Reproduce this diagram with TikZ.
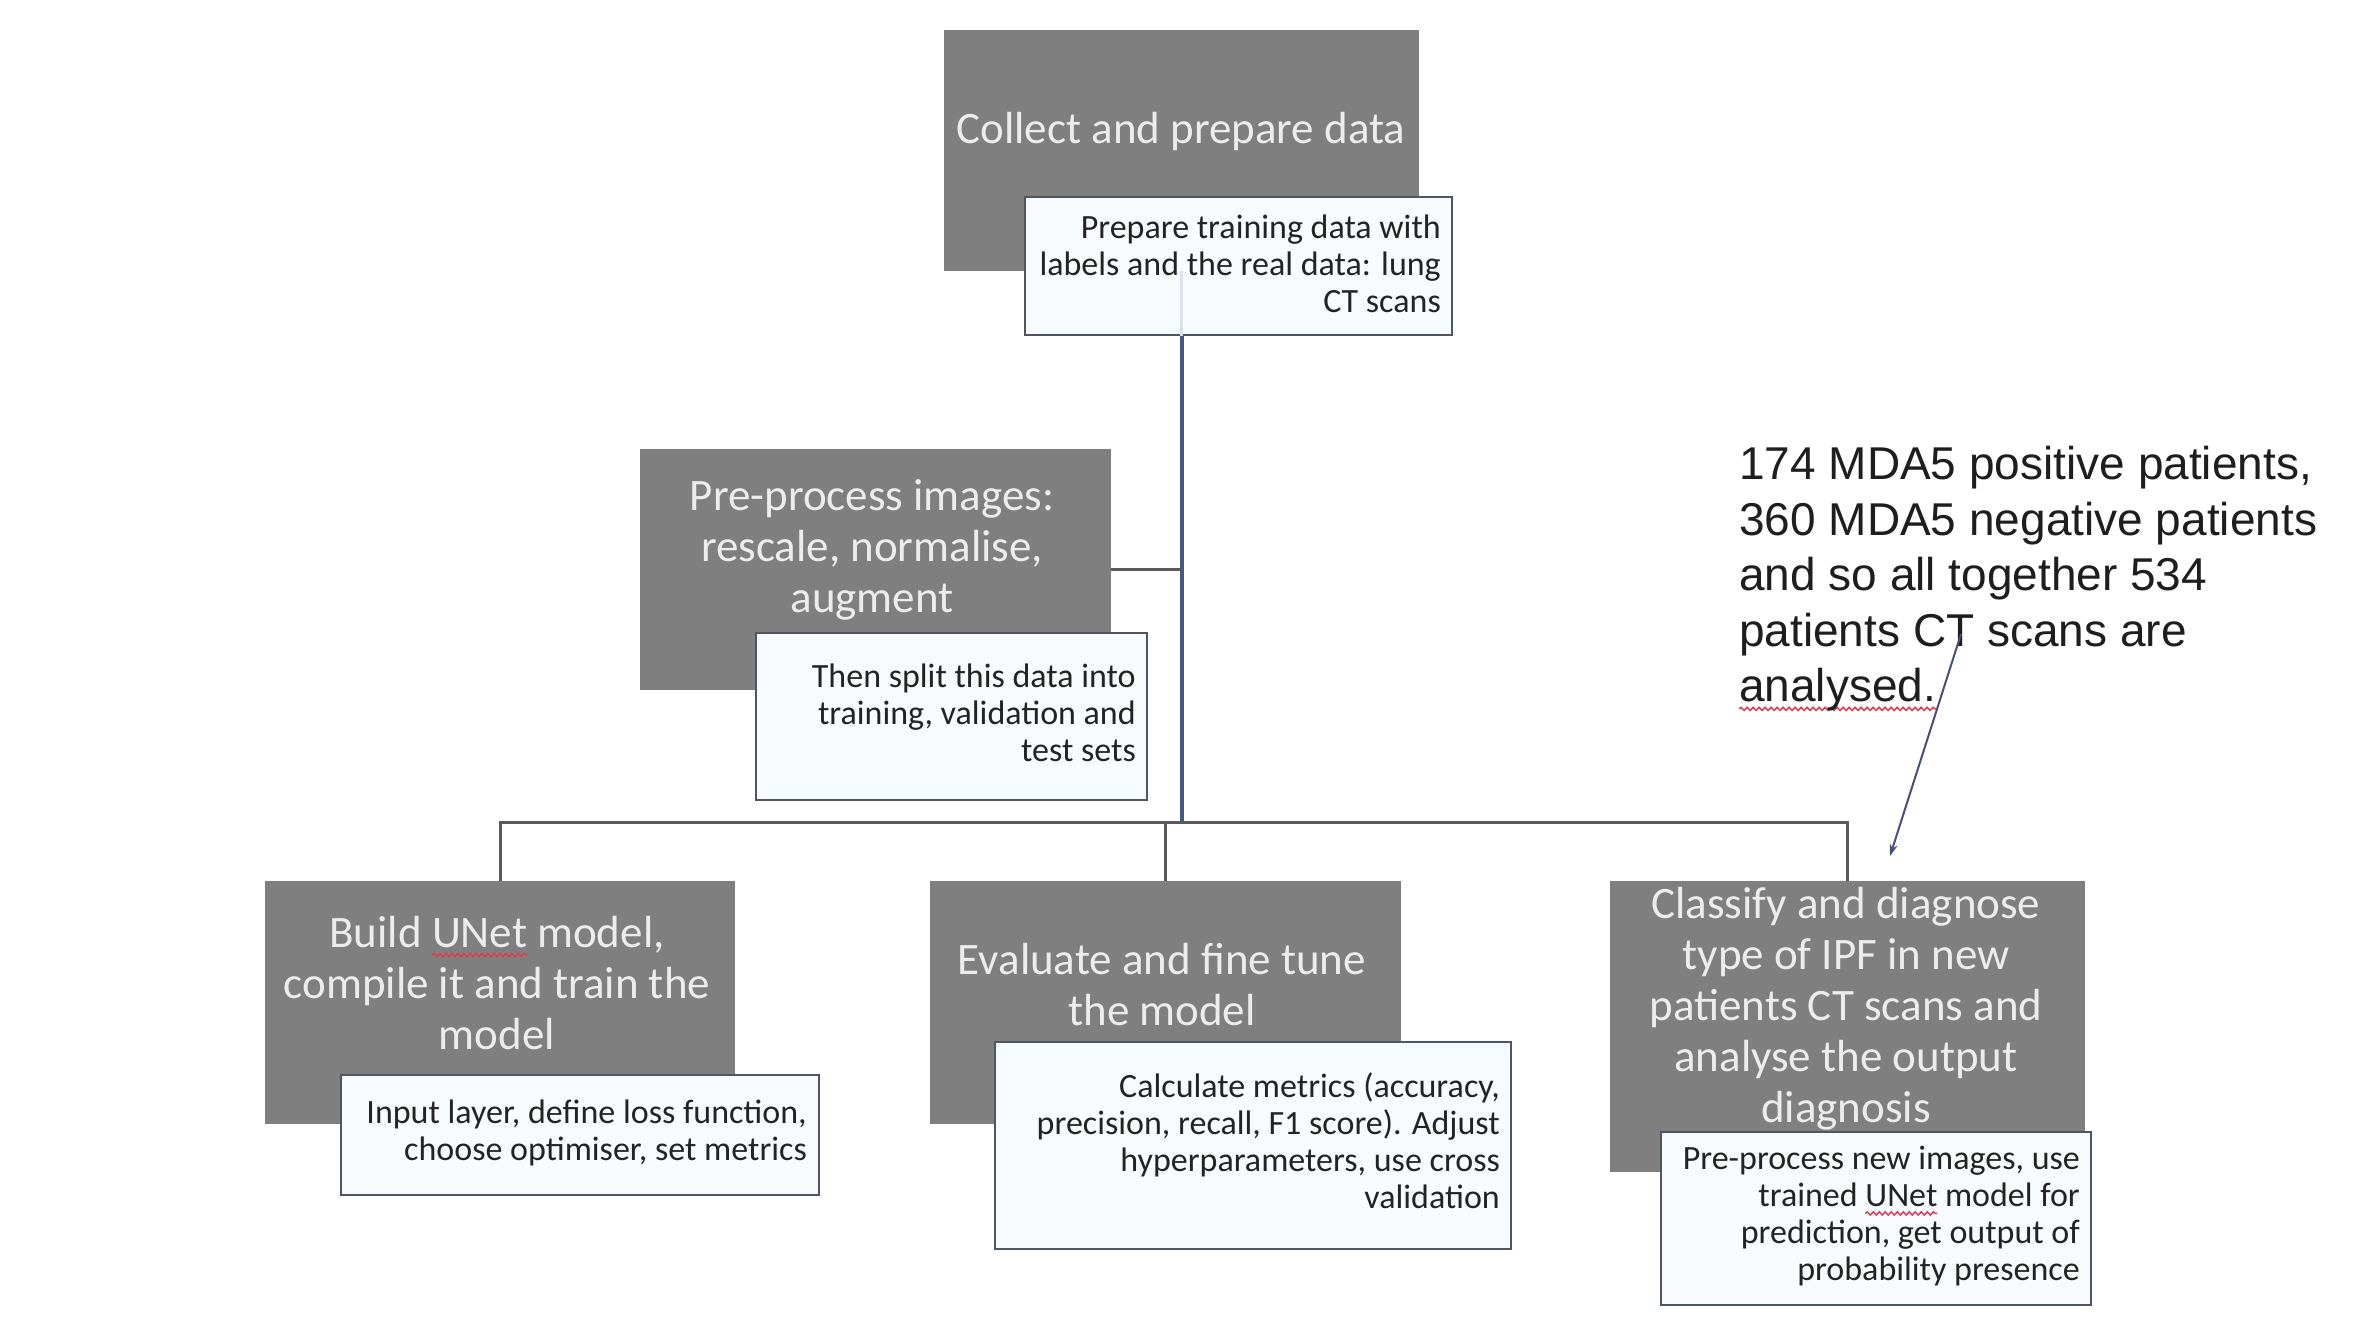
\documentclass[tikz,border=0pt]{standalone}
\usepackage{fontspec}
\setmainfont{Carlito}
\newfontfamily\notefont{Liberation Sans}
\usetikzlibrary{arrows.meta,decorations.pathmorphing}
\definecolor{boxgray}{RGB}{127,127,127}
\definecolor{boxtext}{RGB}{236,236,236}
\definecolor{notefill}{RGB}{248,251,254}
\definecolor{noteborder}{RGB}{78,86,98}
\definecolor{notetext}{RGB}{35,35,35}
\definecolor{trunkcol}{RGB}{66,90,130}
\definecolor{buscol}{RGB}{88,90,96}
\definecolor{annotcol}{RGB}{30,30,30}
\definecolor{arrowcol}{RGB}{70,80,120}
\definecolor{spellcol}{RGB}{222,60,85}
\newsavebox\spbox
\newcommand\spellmark[1]{\sbox\spbox{#1}\makebox[0pt][l]{\tikz[overlay,baseline=0pt,x=1pt,y=1pt]\draw[spellcol,line width=1.5,decorate,decoration={snake,amplitude=1.6,segment length=6}] (0,-7) -- (\the\wd\spbox,-7);}\usebox\spbox}
\tikzset{
  graybox/.style={fill=boxgray, draw=none, inner sep=0, rectangle},
  notebox/.style={fill=notefill, draw=noteborder, line width=2.5, inner sep=0, rectangle},
  graytxt/.style={text=boxtext, font=\fontsize{45}{51}\selectfont, align=center, inner sep=0},
  notetxt/.style={text=notetext, font=\fontsize{34}{37}\selectfont, align=right, inner sep=0, anchor=east},
  trunk/.style={draw=trunkcol, line width=4},
  bus/.style={draw=buscol, line width=3},
}
\begin{document}
\begin{tikzpicture}[x=1pt, y=-1pt]
\useasboundingbox (0,0) rectangle (2357,1334);
\fill[white] (0,0) rectangle (2357,1334);

% gray step boxes
\node[graybox, minimum width=475, minimum height=241] (g1) at (1181.5,150.5) {};
\node[graybox, minimum width=471, minimum height=241] (g2) at (875.5,569.5) {};
\node[graybox, minimum width=470, minimum height=243] (g3) at (500,1002.5) {};
\node[graybox, minimum width=471, minimum height=243] (g4) at (1165.5,1002.5) {};
\node[graybox, minimum width=475, minimum height=291] (g5) at (1847.5,1026.5) {};

% connectors
\coordinate (busM) at (1182,822);
\draw[trunk] (g1.south) -- (g1.south |- busM);
\draw[bus] (g2.east) -- (g2.east -| g1.south);
\draw[bus] (g3.north) -- (g3.north |- busM) -- (g5.north |- busM) -- (g5.north);
\draw[bus] (g4.north |- busM) -- (g4.north);

% gray box texts
\node[graytxt] (gt1) at (1181,131) {Collect and prepare data};
\node[graytxt] (gt2) at (872,550) {Pre-process images:\\rescale, normalise,\\augment};
\node[graytxt] (gt3) at (497,983.5) {Build \spellmark{UNet} model,\\compile it and train the\\model};
\node[graytxt] (gt4) at (1162,985) {Evaluate and fine tune\\the model};
\node[graytxt] (gt5) at (1846,1008.5) {Classify and diagnose\\type of IPF in new\\patients CT scans and\\analyse the output\\diagnosis};

% white detail boxes
\node[notebox, minimum width=427, minimum height=138] (w1) at (1238.5,266) {};
\node[notebox, minimum width=391, minimum height=167] (w2) at (951.5,716.5) {};
\node[notebox, minimum width=478, minimum height=120] (w3) at (580,1135) {};
\node[notebox, minimum width=516, minimum height=207] (w4) at (1253,1145.5) {};
\node[notebox, minimum width=430, minimum height=173] (w5) at (1876,1218.5) {};
\draw[draw=trunkcol!18, line width=3] (g1.south) -- (g1.south |- w1.south);

\node[notetxt] (t1) at (1441,264) {Prepare training data with\\labels and the real data: lung\\CT scans};
\node[notetxt] (t2) at (1136,713) {Then split this data into\\training, validation and\\test sets};
\node[notetxt] (t3) at (807,1132.5) {Input layer, define loss function,\\choose optimiser, set metrics};
\node[notetxt] (t4) at (1500,1140.5) {Calculate metrics (accuracy,\\precision, recall, F1 score). Adjust\\hyperparameters, use cross\\validation};
\node[notetxt] (t5) at (2080,1216) {Pre-process new images, use\\trained \spellmark{UNet} model for\\prediction, get output of\\probability presence};

% annotation
\node[text=annotcol, font=\notefont\fontsize{46}{55.5}\selectfont, align=left, inner sep=0, anchor=west] (note) at (1739,579) {174 MDA5 positive patients,\\360 MDA5 negative patients\\and so all together 534\\patients CT scans are\\\spellmark{analysed.}};
\coordinate (astart) at (1961,634);
\coordinate (aend) at (1890,856);
\draw[draw=arrowcol, line width=2, -{Stealth[length=12, width=8]}] (astart) -- (aend);
\end{tikzpicture}
\end{document}
